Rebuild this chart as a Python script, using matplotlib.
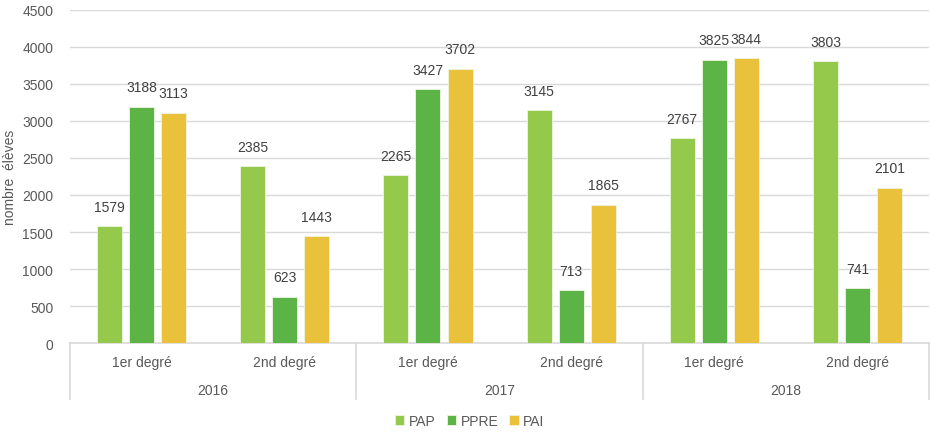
import matplotlib.pyplot as plt
import numpy as np

years = ['2016', '2017', '2018']
levels = ['1er degré', '2nd degré']
pap = [1579, 2385, 2265, 3145, 2767, 3803]
ppre = [3188, 623, 3427, 713, 3825, 741]
pai = [3113, 1443, 3702, 1865, 3844, 2101]

series = [('PAP', pap, '#94c94c'), ('PPRE', ppre, '#5cb447'), ('PAI', pai, '#e9c13b')]

plt.rcParams['font.family'] = ['Liberation Sans', 'DejaVu Sans']

fig = plt.figure(figsize=(9.3, 4.35), dpi=100)
ax = fig.add_axes([0.0753, 0.209, 0.9237, 0.766])

x = np.arange(len(pap))
w = 0.175
step = 0.224
for i, (name, vals, col) in enumerate(series):
    pos = x + (i - 1) * step
    bars = ax.bar(pos, vals, w, color=col, label=name, zorder=3,
                  edgecolor='#eef5e0', linewidth=0.6)
    for b, v in zip(bars, vals):
        ax.text(b.get_x() + b.get_width() / 2, v + 170, str(v), ha='center', va='bottom',
                fontsize=10, color='#404040')

ax.set_xlim(-0.5, len(pap) - 0.5)
ax.set_ylim(0, 4500)
ax.set_yticks(range(0, 4501, 500))
ax.tick_params(axis='y', length=0, labelsize=10, labelcolor='#595959', pad=12)
ax.set_xticks([])
ax.grid(axis='y', color='#d9d9d9', linewidth=1, zorder=0)
for s in ['top', 'right', 'left']:
    ax.spines[s].set_visible(False)
ax.spines['bottom'].set_color('#d9d9d9')
ax.spines['bottom'].set_linewidth(1.2)

# two-level category axis
trans = ax.get_xaxis_transform()
for xb in [-0.5, 1.5, 3.5, 5.5]:
    ax.plot([xb, xb], [0, -0.168], transform=trans, color='#d9d9d9', lw=1.2, clip_on=False)
for i in range(len(pap)):
    ax.text(i, -0.058, levels[i % 2], transform=trans, ha='center', va='center',
            fontsize=10, color='#595959')
for j, yr in enumerate(years):
    ax.text(2 * j + 0.5, -0.142, yr, transform=trans, ha='center', va='center',
            fontsize=10, color='#595959')

ax.set_ylabel('nombre  élèves', fontsize=10, color='#595959', labelpad=4)

fig.legend(loc='center', bbox_to_anchor=(0.505, 0.03), ncol=3, frameon=False,
           fontsize=10, handlelength=0.7, handleheight=0.7, handletextpad=0.3,
           columnspacing=0.8, labelcolor='#595959')

fig.savefig('out.png', dpi=100)
